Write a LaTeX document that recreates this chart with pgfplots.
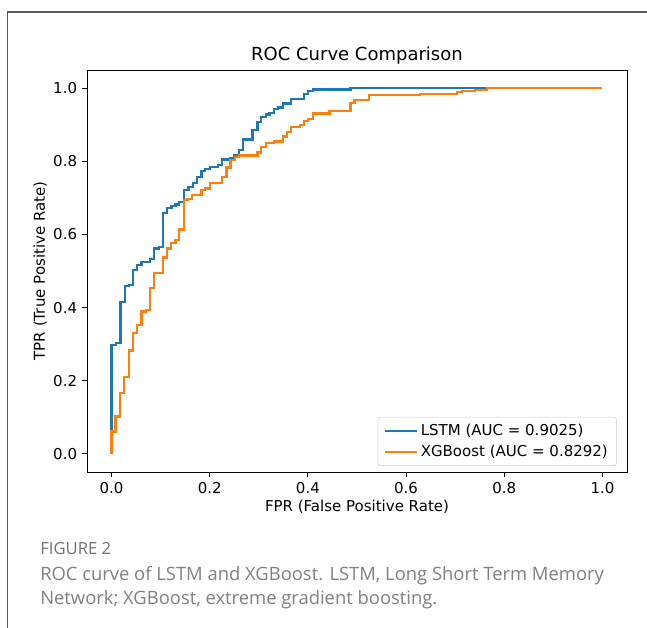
\documentclass[border=0pt]{standalone}
\usepackage{pgfplots}
\pgfplotsset{compat=1.18}
\usepackage{fontspec}
\setmainfont{DejaVu Sans}
\newfontfamily\capfont{Open Sans}
\definecolor{mplblue}{HTML}{1F77B4}
\definecolor{mplorange}{HTML}{FF7F0E}
\definecolor{capgray}{HTML}{808080}
\definecolor{figgray}{HTML}{707070}
\definecolor{framegray}{HTML}{5A5A5A}
\begin{document}
\begin{tikzpicture}[x=0.75pt,y=0.75pt]
\path[use as bounding box] (0,0) rectangle (647,628);
\draw[framegray, line width=1pt] (7.5,0) -- (7.5,616) -- (647,616);
\begin{axis}[
  at={(65.25pt,117pt)}, anchor=south west,
  width=405pt, height=301.5pt, scale only axis,
  xmin=-0.05, xmax=1.05, ymin=-0.05, ymax=1.05,
  xtick={0,0.2,0.4,0.6,0.8,1.0},
  ytick={0,0.2,0.4,0.6,0.8,1.0},
  xticklabels={0.0,0.2,0.4,0.6,0.8,1.0},
  yticklabels={0.0,0.2,0.4,0.6,0.8,1.0},
  xtick pos=left, ytick pos=left,
  tick align=outside,
  major tick length=3.9pt,
  every tick/.style={black, line width=0.7pt},
  axis line style={line width=0.7pt},
  tick label style={font=\fontsize{11.25}{13.5}\selectfont},
  label style={font=\fontsize{11.25}{13.5}\selectfont},
  title style={font=\fontsize{13.5}{16}\selectfont, yshift=-5.5pt},
  title={ROC Curve Comparison},
  xlabel={FPR (False Positive Rate)},
  ylabel={TPR (True Positive Rate)},
  xlabel style={yshift=2pt},
  ylabel style={yshift=-2pt},
  legend style={at={(0.981,0.015)}, anchor=south east,
    draw={rgb,255:red,204;green,204;blue,204}, rounded corners=2pt,
    font=\fontsize{11.25}{13.5}\selectfont, row sep=2pt,
    inner xsep=4.5pt, inner ysep=3.2pt},
  legend cell align=left,
  legend image code/.code={\draw[#1] (0pt,0pt) -- (24pt,0pt);},
]
\addplot[const plot, mplblue, line width=1.75pt] coordinates {
(0,0) (0,0.298) (0.009,0.303) (0.018,0.416) (0.027,0.459) (0.035,0.462)
(0.044,0.503) (0.052,0.516) (0.061,0.525) (0.079,0.533) (0.087,0.562)
(0.096,0.566) (0.105,0.659) (0.113,0.673) (0.122,0.678) (0.130,0.682)
(0.138,0.689) (0.147,0.721) (0.157,0.730) (0.166,0.741) (0.174,0.758)
(0.183,0.773) (0.191,0.780) (0.200,0.785) (0.217,0.790) (0.225,0.805)
(0.242,0.810) (0.250,0.817) (0.259,0.831) (0.268,0.860) (0.287,0.885)
(0.297,0.908) (0.305,0.922) (0.314,0.928) (0.322,0.933) (0.331,0.944)
(0.339,0.947) (0.349,0.958) (0.366,0.970) (0.392,0.984) (0.400,0.993)
(0.410,0.997) (0.487,1.0) (1.0,1.0)
};
\addlegendentry{LSTM (AUC = 0.9025)}
\addplot[const plot, mplorange, line width=1.75pt] coordinates {
(0,0) (0,0.061) (0.008,0.102) (0.017,0.166) (0.026,0.210) (0.035,0.282)
(0.044,0.330) (0.052,0.352) (0.061,0.389) (0.070,0.393) (0.079,0.454)
(0.087,0.494) (0.105,0.537) (0.113,0.562) (0.121,0.577) (0.130,0.585)
(0.138,0.614) (0.147,0.694) (0.155,0.697) (0.164,0.708) (0.183,0.721)
(0.191,0.726) (0.200,0.740) (0.225,0.758) (0.234,0.783) (0.242,0.803)
(0.251,0.812) (0.259,0.816) (0.297,0.824) (0.305,0.840) (0.314,0.851)
(0.331,0.854) (0.349,0.868) (0.358,0.881) (0.366,0.894) (0.384,0.899)
(0.392,0.911) (0.400,0.915) (0.410,0.931) (0.444,0.937) (0.487,0.960)
(0.495,0.967) (0.524,0.981) (0.628,0.985) (0.704,0.990) (0.714,0.993)
(0.741,0.996) (0.765,1.0) (1.0,1.0)
};
\addlegendentry{XGBoost (AUC = 0.8292)}
\end{axis}
\node[anchor=base west, inner sep=0pt, text=figgray, font=\capfont\fontsize{12.5}{14}\selectfont] at (40,73) {FIGURE 2};
\node[anchor=base west, inner sep=0pt, text=capgray, align=left, font=\capfont\fontsize{13.8}{18}\selectfont] at (40,47) {ROC curve of LSTM and XGBoost. LSTM, Long Short Term Memory};
\node[anchor=base west, inner sep=0pt, text=capgray, align=left, font=\capfont\fontsize{13.8}{18}\selectfont] at (40,23) {Network; XGBoost, extreme gradient boosting.};
\end{tikzpicture}
\end{document}
